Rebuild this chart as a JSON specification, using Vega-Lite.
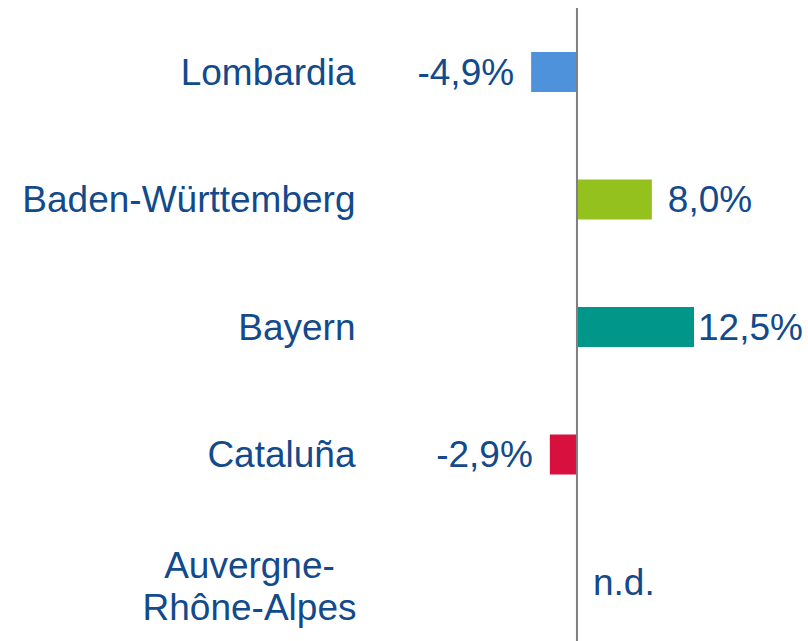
{
  "$schema": "https://vega.github.io/schema/vega-lite/v6.json",
  "autosize": {"type": "none"},
  "padding": {"left": 375, "top": 8, "right": 0, "bottom": 0},
  "width": 433,
  "height": 633,
  "background": "white",
  "config": {"view": {"stroke": null}, "font": "Liberation Sans"},
  "data": {"values": [
    {"region": "Lombardia", "value": -4.9, "label": "-4,9%"},
    {"region": "Baden-Württemberg", "value": 8.0, "label": "8,0%"},
    {"region": "Bayern", "value": 12.5, "label": "12,5%"},
    {"region": "Cataluña", "value": -2.9, "label": "-2,9%"},
    {"region": "Auvergne-|Rhône-Alpes", "value": 0, "label": "n.d."}
  ]},
  "encoding": {
    "y": {
      "field": "region", "type": "nominal", "sort": null,
      "scale": {"paddingInner": 0.686, "paddingOuter": 0.3255, "align": 0.53},
      "axis": {
        "title": null, "domain": false, "ticks": false, "tickSize": 0,
        "labelPadding": {"condition": {"test": "indexof(datum.value, '|') >= 0", "value": 126}, "value": 20},
        "labelAlign": {"condition": {"test": "indexof(datum.value, '|') >= 0", "value": "center"}, "value": "right"},
        "labelOffset": {"condition": {"test": "indexof(datum.value, '|') >= 0", "value": -15}, "value": 2},
        "labelExpr": "split(datum.value, '|')",
        "labelFontSize": 37, "labelColor": "#124A8C", "labelFont": "Liberation Sans",
        "labelLineHeight": 42, "labelLimit": 500, "labelBaseline": "middle"
      }
    }
  },
  "layer": [
    {
      "transform": [{"filter": "datum.label != 'n.d.'"}],
      "mark": {"type": "bar"},
      "encoding": {
        "x": {"field": "value", "type": "quantitative", "scale": {"domain": [-21.58, 24.68], "nice": false, "zero": false}, "axis": null},
        "color": {"field": "region", "type": "nominal", "legend": null,
          "scale": {"domain": ["Lombardia", "Baden-Württemberg", "Bayern", "Cataluña"], "range": ["#4E92DB", "#95C11F", "#00968A", "#D7103D"]}}
      }
    },
    {
      "mark": {"type": "rule", "color": "#808080", "strokeWidth": 2},
      "encoding": {"x": {"datum": 0, "type": "quantitative"}, "y": null}
    },
    {
      "transform": [{"filter": "datum.value < 0"}],
      "mark": {"type": "text", "align": "right", "baseline": "middle", "dx": -17, "dy": 2, "fontSize": 37, "color": "#124A8C"},
      "encoding": {"x": {"field": "value", "type": "quantitative"}, "text": {"field": "label"}}
    },
    {
      "transform": [{"filter": "datum.value >= 0 && datum.value < 10"}],
      "mark": {"type": "text", "align": "left", "baseline": "middle", "dx": 16, "dy": 2, "fontSize": 37, "color": "#124A8C"},
      "encoding": {"x": {"field": "value", "type": "quantitative"}, "text": {"field": "label"}}
    },
    {
      "transform": [{"filter": "datum.value >= 10"}],
      "mark": {"type": "text", "align": "left", "baseline": "middle", "dx": 4, "dy": 2, "fontSize": 37, "color": "#124A8C"},
      "encoding": {"x": {"field": "value", "type": "quantitative"}, "text": {"field": "label"}}
    }
  ]
}
